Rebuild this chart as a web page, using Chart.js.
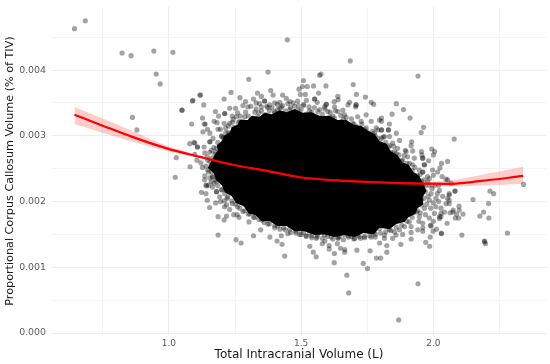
<!DOCTYPE html>
<html>
<head>
<meta charset="utf-8">
<style>
  html, body { margin: 0; padding: 0; background: #fff; }
</style>
<script src="https://cdn.jsdelivr.net/npm/chart.js@4"></script>
</head>
<body>
<canvas id="chart" width="550" height="364"></canvas>
<script>
// axes
let xTicks = [0.75, 1.0, 1.25, 1.5, 1.75, 2.0, 2.25];
let xLabels = { 1: '1.0', 1.5: '1.5', 2: '2.0' };
let yTicks = [0, 0.0005, 0.001, 0.0015, 0.002, 0.0025, 0.003, 0.0035, 0.004, 0.0045];
let yLabels = { 0: '0.000', 0.001: '0.001', 0.002: '0.002', 0.003: '0.003', 0.004: '0.004' };

// quadratic fit and its confidence ribbon
let fitX = [0.643, 0.740, 0.864, 0.992, 1.117, 1.242, 1.381, 1.494, 1.683, 1.872, 2.060, 2.174, 2.340];
let fitY = [0.00332, 0.00317, 0.00298, 0.00281, 0.00268, 0.00256, 0.00246, 0.00237, 0.00231, 0.00228, 0.00227, 0.00231, 0.00239];
let ribbonUpper = [0.00344, 0.00328, 0.00307, 0.00285, 0.00270, 0.00257, 0.00246, 0.00239, 0.00233, 0.00230, 0.00232, 0.00240, 0.00253];
let ribbonLower = [0.00318, 0.00306, 0.00291, 0.00277, 0.00266, 0.00254, 0.00244, 0.00236, 0.00230, 0.00226, 0.00223, 0.00224, 0.00227];

// outline of the part of the cloud where the points overlap to solid black
let solidCloud = [[1.147,.00251],[1.162,.00263],[1.170,.00269],[1.185,.00278],[1.181,.00285],[1.200,.00292],[1.208,.00300],[1.230,.00305],[1.238,.00313],[1.260,.00317],[1.268,.00324],[1.298,.00324],[1.313,.00330],[1.343,.00329],[1.362,.00335],[1.389,.00333],[1.419,.00339],[1.445,.00336],[1.476,.00341],[1.506,.00335],[1.540,.00336],[1.570,.00330],[1.608,.00330],[1.638,.00324],[1.672,.00324],[1.698,.00317],[1.728,.00315],[1.751,.00308],[1.777,.00303],[1.796,.00292],[1.823,.00288],[1.838,.00277],[1.864,.00271],[1.883,.00260],[1.906,.00256],[1.925,.00245],[1.947,.00239],[1.962,.00227],[1.974,.00216],[1.959,.00207],[1.962,.00196],[1.940,.00190],[1.932,.00181],[1.906,.00176],[1.891,.00169],[1.860,.00166],[1.834,.00158],[1.796,.00160],[1.774,.00150],[1.736,.00152],[1.702,.00146],[1.664,.00149],[1.626,.00146],[1.589,.00150],[1.551,.00149],[1.513,.00155],[1.476,.00155],[1.445,.00163],[1.411,.00163],[1.381,.00170],[1.351,.00170],[1.328,.00179],[1.302,.00182],[1.283,.00193],[1.253,.00198],[1.238,.00208],[1.211,.00214],[1.200,.00225],[1.177,.00233],[1.170,.00243]];

// individual participants readable around the cloud
let farLeft = [[.643,.00463],[.684,.00475],[.823,.00426],[.857,.00422],[.943,.00429],[1.015,.00427],[.952,.00394],[.967,.00379],[1.091,.00354],[1.049,.00339],[1.117,.00362],[.862,.00328],[.879,.00309],[1.086,.00318],[1.079,.00288],[1.098,.00289],[1.028,.00267],[1.080,.00253],[1.024,.00237],[1.106,.00263]];

let lowerLeft = [[1.186,.00177],[1.218,.00178],[1.209,.00172],[1.186,.00149],[1.254,.00142],[1.273,.00137],[1.320,.00148],[1.382,.00146],[1.409,.00140],[1.428,.00135],[1.438,.00117],[1.154,.00191],[1.145,.00202],[1.258,.00180],[1.347,.00157],[1.303,.00169],[1.123,.00214],[1.140,.00212],[1.136,.00239],[1.265,.00176],[1.218,.00195],[1.177,.00198],[1.209,.00201],[1.140,.00225],[1.143,.00224],[1.180,.00215],[1.192,.00207],[1.135,.00233],
  [1.162,.00245],[1.155,.00236],[1.170,.00228],[1.177,.00233],[1.147,.00248],[1.185,.00224],[1.200,.00218],[1.211,.00212],[1.223,.00207],[1.238,.00201],[1.253,.00196],[1.268,.00190],[1.287,.00186],[1.306,.00181],[1.325,.00176],[1.351,.00172],[1.374,.00166],[1.400,.00164],[1.287,.00196],[1.260,.00204]];

let bottomEdge = [[1.533,.00132],[1.546,.00123],[1.557,.00116],[1.606,.00133],[1.606,.00128],[1.626,.00121],[1.625,.00107],[1.649,.00129],[1.665,.00127],[1.665,.00123],[1.711,.00126],[1.761,.00125],[1.735,.00106],[1.751,.00098],[1.673,.00088],[1.680,.00061],[1.580,.00136],[1.590,.00140],[1.637,.00136],[1.494,.00150],[1.518,.00148],[1.540,.00145],[1.557,.00144],[1.425,.00148],[1.450,.00151],[1.614,.00146],[1.639,.00145],[1.677,.00148],[1.702,.00144],[1.725,.00144],[1.765,.00146],
  [1.411,.00163],[1.434,.00160],[1.457,.00158],[1.479,.00155],[1.509,.00153],[1.532,.00152],[1.562,.00149],[1.589,.00149],[1.645,.00147],[1.664,.00150],[1.691,.00147],[1.713,.00149],[1.740,.00147],[1.781,.00150]];

let lowerRight = [[1.869,.00020],[1.942,.00075],[1.785,.00114],[1.801,.00114],[1.824,.00123],[1.824,.00133],[1.797,.00137],[1.877,.00135],[1.916,.00143],[1.971,.00138],[1.986,.00132],[1.988,.00146],[1.960,.00155],[2.031,.00151],[2.030,.00152],[2.108,.00149],[2.052,.00167],[1.989,.00164],[1.991,.00163],[2.012,.00158],[1.999,.00155],[2.194,.00139],[2.193,.00140],[2.197,.00136],[2.280,.00152],[2.176,.00178],[2.190,.00184],[2.210,.00175],[2.209,.00197],[2.150,.00203],[2.214,.00216],[2.228,.00212],[2.341,.00226],[2.112,.00181],[2.097,.00193],[2.098,.00187],[2.088,.00181],[2.096,.00175],[2.083,.00175],[2.074,.00184],[2.063,.00183],[2.082,.00216],[2.082,.00216],[2.060,.00197],[2.042,.00184],[2.029,.00182],[2.023,.00174],[2.060,.00210],[2.067,.00228],[2.054,.00233]];

let rightEdge = [[1.815,.00149],[1.846,.00144],[1.859,.00149],[1.884,.00150],[1.916,.00153],[1.941,.00157],[1.815,.00144],[1.777,.00154],[1.853,.00154],[1.916,.00162],[1.960,.00167],[2.023,.00177],[2.075,.00187],[2.060,.00202],[2.029,.00177],[2.004,.00182],[2.029,.00190],[2.048,.00197],[2.054,.00205],[2.060,.00212],[2.010,.00192],[1.985,.00202],[1.966,.00190],[1.947,.00177],[1.935,.00184],[1.991,.00212],[2.010,.00205],[2.023,.00217],[1.978,.00230],[2.048,.00234],[1.954,.00210],[1.960,.00225],[1.909,.00169],[1.891,.00162],[1.872,.00157],[1.834,.00157],[1.796,.00159],[1.771,.00164],
  [1.97,.00215],[1.98,.00208],[1.955,.00203],[1.995,.00220],[1.975,.00196],[1.99,.00190],[1.95,.00183],[2.0,.00198],[2.015,.00212],[2.02,.00200],[2.035,.00208],[1.97,.00180],[1.985,.00175],[2.0,.00170],[1.945,.00170],[1.96,.00160],[2.005,.00225],[1.985,.00235],[2.0,.00240],[2.02,.00225]];

let upperRight = [[1.765,.00351],[1.774,.00348],[1.860,.00349],[1.844,.00333],[1.887,.00340],[1.912,.00327],[1.804,.00327],[1.804,.00322],[1.834,.00318],[1.765,.00322],[1.963,.00313],[1.954,.00305],[1.860,.00304],[1.830,.00309],[1.830,.00309],[1.804,.00309],[1.804,.00309],[2.079,.00295],[1.834,.00299],[1.815,.00299],[1.872,.00293],[1.918,.00291],[1.916,.00285],[1.994,.00280],[2.005,.00276],[2.000,.00271],[1.955,.00276],[1.957,.00271],[1.922,.00277],[1.894,.00278],[1.865,.00281],[1.846,.00289],[1.834,.00285],[2.054,.00261],[2.031,.00258],[2.025,.00251],[2.016,.00245],[2.033,.00238],[1.997,.00248],[1.982,.00262],[1.960,.00266],[1.960,.00266],[1.966,.00256],[1.966,.00256],[1.960,.00245],[1.960,.00245],[1.928,.00266],[1.903,.00268],[1.922,.00256],[1.947,.00248],[1.978,.00238],[1.884,.00263],[1.897,.00276],[1.853,.00276],[1.803,.00296],[1.777,.00304],[1.784,.00312],[1.942,.00391]];

let topEdge = [[1.686,.00414],[1.509,.00384],[1.575,.00394],[1.570,.00392],[1.492,.00371],[1.505,.00375],[1.523,.00375],[1.547,.00376],[1.594,.00376],[1.697,.00378],[1.566,.00365],[1.497,.00363],[1.516,.00363],[1.430,.00362],[1.385,.00369],[1.394,.00362],[1.444,.00357],[1.458,.00352],[1.487,.00353],[1.520,.00354],[1.551,.00356],[1.551,.00356],[1.561,.00351],[1.639,.00360],[1.640,.00355],[1.625,.00352],[1.709,.00363],[1.743,.00359],[1.683,.00351],[1.677,.00347],[1.708,.00347],[1.708,.00347],[1.706,.00344],[1.595,.00348],[1.595,.00348],[1.589,.00344],[1.626,.00344],[1.509,.00346],[1.475,.00345],[1.419,.00351],[1.425,.00344],[1.400,.00350],[1.381,.00347],[1.457,.00340],[1.488,.00339],[1.532,.00338],[1.563,.00337],[1.601,.00337],[1.639,.00337],[1.658,.00339],[1.664,.00332],[1.714,.00329],[1.746,.00332],[1.727,.00322],[1.695,.00319],[1.652,.00322],[1.626,.00327],[1.608,.00329],[1.570,.00327],[1.539,.00329],[1.507,.00327],[1.463,.00332],[1.431,.00334],[1.400,.00337],[1.671,.00312],[1.714,.00309],[1.746,.00312],[1.790,.00309],[1.796,.00324],[1.448,.00446],[1.375,.00397],[1.302,.00386]];

let upperLeft = [[1.235,.00366],[1.120,.00362],[1.089,.00353],[1.132,.00347],[1.050,.00339],[1.209,.00356],[1.269,.00358],[1.127,.00327],[1.176,.00337],[1.188,.00330],[1.230,.00342],[1.252,.00342],[1.280,.00346],[1.299,.00344],[1.320,.00356],[1.335,.00365],[1.350,.00360],[1.362,.00353],[1.362,.00353],[1.343,.00349],[1.211,.00334],[1.211,.00334],[1.171,.00322],[1.182,.00320],[1.136,.00318],[1.136,.00318],[1.129,.00306],[1.146,.00310],[1.155,.00304],[1.186,.00310],[1.209,.00319],[1.230,.00319],[1.243,.00325],[1.095,.00290],[1.108,.00283],[1.108,.00283],[1.133,.00283],[1.155,.00291],[1.155,.00291],[1.167,.00296],[1.199,.00299],[1.218,.00298],[1.098,.00272],[1.136,.00274],[1.161,.00278],[1.174,.00272],[1.121,.00259],[1.127,.00252],[1.155,.00261],[1.180,.00281],[1.255,.00329],[1.268,.00322],[1.287,.00329],[1.325,.00336],[1.350,.00344],
  [1.162,.00266],[1.177,.00275],[1.192,.00285],[1.208,.00292],[1.230,.00303],[1.253,.00312],[1.283,.00317],[1.313,.00324],[1.336,.00329],[1.366,.00332],[1.374,.00343],[1.411,.00340],[1.147,.00263],
  [1.14,.00254],[1.15,.00245],[1.16,.00255],[1.145,.00268],[1.155,.00275],[1.17,.00263],[1.17,.00282],[1.185,.00270],[1.185,.00290],[1.19,.00258],[1.175,.00250],[1.165,.00238],[1.16,.00230],[1.15,.00225],[1.165,.00222],[1.18,.00215],[1.195,.00200],[1.21,.00192],[1.23,.00188],[1.245,.00180],[1.20,.00300],[1.215,.00305],[1.195,.00310],[1.225,.00315],[1.24,.00330],[1.26,.00335],[1.29,.00352],[1.31,.00345],[1.33,.00350]];

// the dense fringe just outside the solid part, upper and lower side
let fringeTop = [[1.205,.00297],[1.225,.00305],[1.245,.00313],[1.262,.00320],[1.28,.00322],[1.30,.00330],[1.318,.00327],[1.34,.00335],[1.36,.00331],[1.38,.00338],[1.40,.00335],[1.42,.00342],[1.44,.00338],[1.46,.00343],[1.48,.00336],[1.50,.00340],[1.52,.00333],[1.54,.00336],[1.56,.00329],[1.58,.00333],[1.60,.00326],[1.62,.00330],[1.64,.00320],[1.66,.00325],[1.68,.00315],[1.70,.00318],[1.72,.00306],[1.74,.00310],[1.76,.00299],[1.78,.00300],[1.80,.00288],[1.82,.00290],[1.84,.00275],[1.86,.00273],[1.88,.00262],[1.90,.00258],[1.92,.00247],[1.94,.00240],[1.955,.00231],[1.97,.00224],
  [1.215,.00312],[1.24,.00321],[1.27,.00330],[1.29,.00336],[1.33,.00341],[1.35,.00338],[1.37,.00345],[1.39,.00343],[1.41,.00348],[1.43,.00346],[1.45,.00349],[1.47,.00350],[1.49,.00346],[1.51,.00348],[1.53,.00344],[1.55,.00343],[1.57,.00340],[1.59,.00341],[1.61,.00336],[1.63,.00338],[1.65,.00331],[1.67,.00328],[1.69,.00326],[1.71,.00314],[1.73,.00318],[1.75,.00306],[1.77,.00307],[1.79,.00296],[1.81,.00298],[1.83,.00283],[1.85,.00284],[1.87,.00271],[1.89,.00270],[1.91,.00258],[1.93,.00252],[1.95,.00241],[1.965,.00233],[1.985,.00225]];

let fringeBottom = [[1.165,.00237],[1.18,.00230],[1.20,.00218],[1.22,.00205],[1.24,.00197],[1.26,.00192],[1.28,.00185],[1.30,.00181],[1.32,.00176],[1.34,.00173],[1.36,.00168],[1.38,.00166],[1.40,.00160],[1.42,.00158],[1.44,.00157],[1.46,.00153],[1.48,.00152],[1.50,.00150],[1.52,.00147],[1.54,.00148],[1.56,.00146],[1.58,.00144],[1.60,.00147],[1.62,.00143],[1.64,.00144],[1.66,.00142],[1.68,.00146],[1.70,.00143],[1.72,.00147],[1.74,.00145],[1.76,.00148],[1.78,.00146],[1.80,.00152],[1.82,.00154],[1.84,.00156],[1.86,.00161],[1.88,.00164],[1.90,.00170],[1.92,.00176],[1.94,.00186],[1.955,.00195],[1.965,.00205]];

function toXY(list) {
    return list.map(function (p) { return { x: p[0], y: p[1] }; });
}
function series(xs, ys) {
    return xs.map(function (x, i) { return { x: x, y: ys[i] }; });
}

let allPoints = [].concat(farLeft, lowerLeft, bottomEdge, lowerRight, rightEdge, upperRight, topEdge, upperLeft, fringeTop, fringeBottom);

let ctx = document.getElementById('chart').getContext('2d');
Chart.defaults.font.family = '"DejaVu Sans"';

new Chart(ctx, {
    type: 'scatter',
    data: {
        datasets: [
            {
                label: 'Fit',
                data: series(fitX, fitY),
                showLine: true,
                cubicInterpolationMode: 'monotone',
                borderColor: '#ff0000',
                borderWidth: 2.2,
                pointRadius: 0,
                order: 1
            },
            {
                label: 'Upper',
                data: series(fitX, ribbonUpper),
                showLine: true,
                cubicInterpolationMode: 'monotone',
                borderWidth: 0,
                pointRadius: 0,
                fill: '+1',
                backgroundColor: 'rgba(255,0,0,0.2)',
                order: 2
            },
            {
                label: 'Lower',
                data: series(fitX, ribbonLower),
                showLine: true,
                cubicInterpolationMode: 'monotone',
                borderWidth: 0,
                pointRadius: 0,
                order: 3
            },
            {
                label: 'Solid',
                data: toXY(solidCloud),
                showLine: true,
                fill: 'shape',
                backgroundColor: '#000',
                borderWidth: 0,
                pointRadius: 0,
                order: 4
            },
            {
                label: 'Participants',
                data: toXY(allPoints),
                backgroundColor: 'rgba(0,0,0,0.36)',
                borderWidth: 0,
                pointRadius: 2.6,
                order: 5
            }
        ]
    },
    options: {
        responsive: false,
        animation: false,
        layout: { padding: { top: 7, right: 3, left: 2, bottom: 0 } },
        plugins: { legend: { display: false }, tooltip: { enabled: false } },
        scales: {
            x: {
                type: 'linear',
                min: 0.558,
                max: 2.426,
                afterFit: function (scale) {
                    scale.height = 29;
                    scale.paddingLeft = 0;
                    scale.paddingRight = 0;
                },
                afterBuildTicks: function (scale) {
                    scale.ticks = xTicks.map(function (v) { return { value: v }; });
                },
                border: { display: false },
                grid: {
                    drawTicks: false,
                    color: function (c) { return xLabels[c.tick.value] ? '#ececec' : '#f4f4f4'; },
                    lineWidth: 1
                },
                ticks: {
                    autoSkip: false,
                    maxRotation: 0,
                    padding: 3,
                    color: '#5a5a5a',
                    font: { size: 9 },
                    callback: function (v) { return xLabels[v] || ''; }
                },
                title: {
                    display: true,
                    text: 'Total Intracranial Volume (L)',
                    color: '#1a1a1a',
                    font: { size: 12 },
                    padding: { top: 0, bottom: 2 }
                }
            },
            y: {
                type: 'linear',
                min: -0.00003,
                max: 0.00496,
                afterFit: function (scale) {
                    scale.width = 50;
                    scale.paddingTop = 0;
                    scale.paddingBottom = 0;
                },
                afterBuildTicks: function (scale) {
                    scale.ticks = yTicks.map(function (v) { return { value: v }; });
                },
                border: { display: false },
                grid: {
                    drawTicks: false,
                    color: function (c) { return yLabels[c.tick.value] ? '#ececec' : '#f4f4f4'; },
                    lineWidth: 1
                },
                ticks: {
                    autoSkip: false,
                    padding: 6,
                    color: '#5a5a5a',
                    font: { size: 9.4 },
                    callback: function (v) { return yLabels[v] || ''; }
                },
                title: {
                    display: true,
                    text: 'Proportional Corpus Callosum Volume (% of TIV)',
                    color: '#1a1a1a',
                    font: { size: 11.2 },
                    padding: { top: 1, bottom: 0 }
                }
            }
        }
    }
});
</script>
</body>
</html>
